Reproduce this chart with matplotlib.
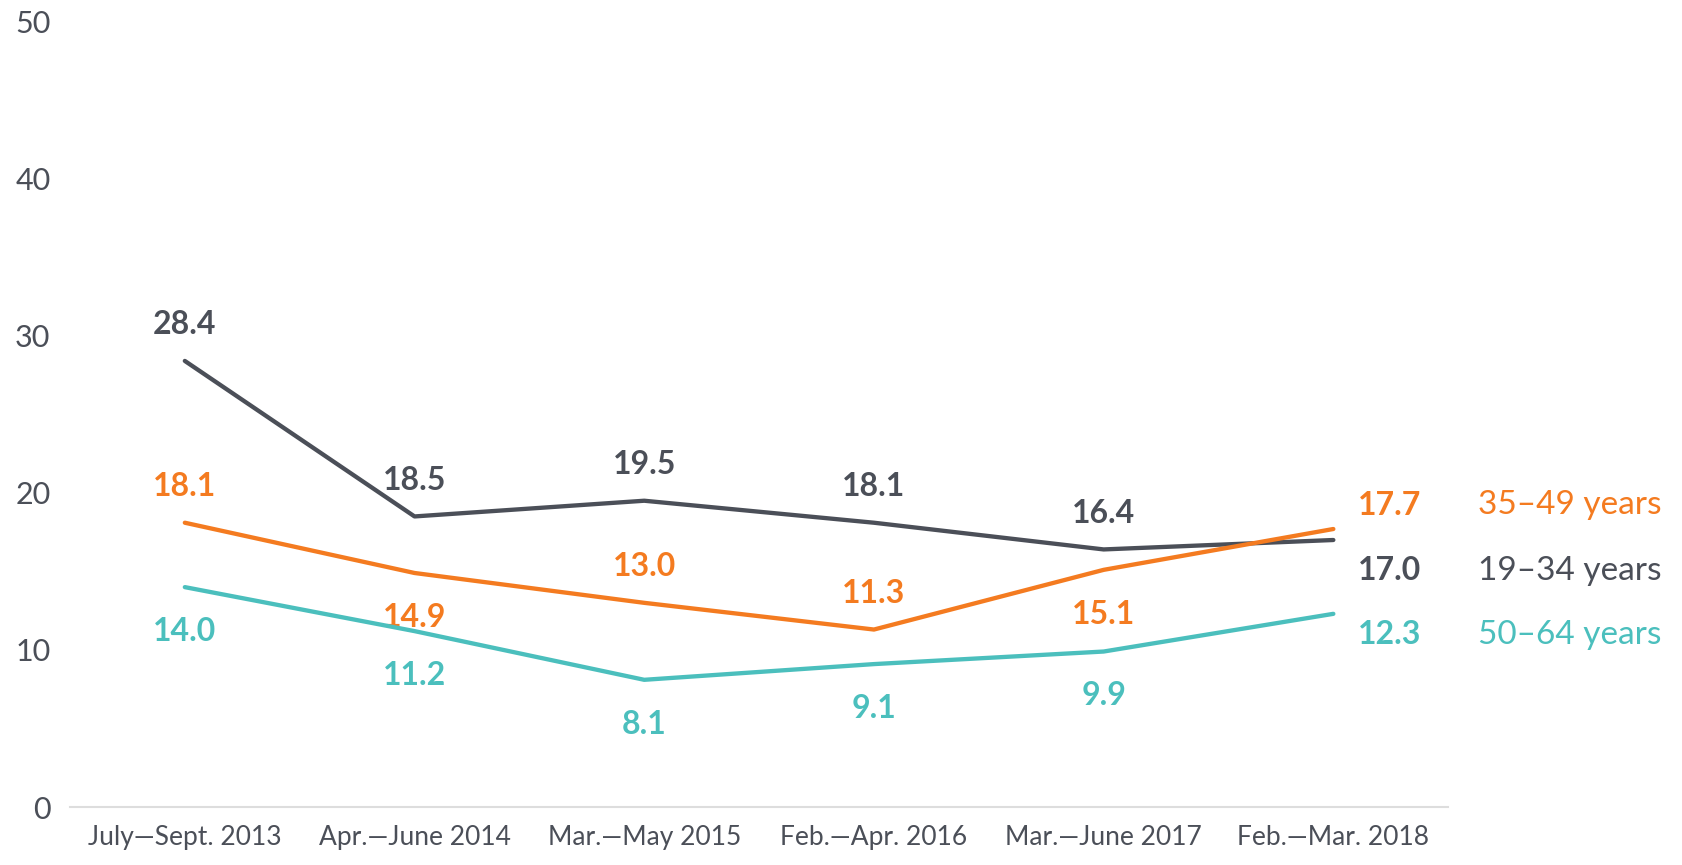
import matplotlib
matplotlib.use("Agg")
import matplotlib.pyplot as plt

plt.rcParams['font.family'] = ['Lato', 'DejaVu Sans']

periods = ["July\u2014Sept. 2013", "Apr.\u2014June 2014", "Mar.\u2014May 2015",
           "Feb.\u2014Apr. 2016", "Mar.\u2014June 2017", "Feb.\u2014Mar. 2018"]
age_19_34 = [28.4, 18.5, 19.5, 18.1, 16.4, 17.0]
age_35_49 = [18.1, 14.9, 13.0, 11.3, 15.1, 17.7]
age_50_64 = [14.0, 11.2, 8.1, 9.1, 9.9, 12.3]

gray = "#4b4f58"
orange = "#f47b20"
teal = "#4bbfbd"

# label above (+1) or below (-1) each point, last point handled separately
series = [
    ("19\u201334 years", age_19_34, gray, [1, 1, 1, 1, 1], -22),
    ("35\u201349 years", age_35_49, orange, [1, -1, 1, 1, -1], 17),
    ("50\u201364 years", age_50_64, teal, [-1, -1, -1, -1, -1], -15),
]

fig = plt.figure(figsize=(16.82, 8.65), dpi=100)
ax = fig.add_axes([0.0416, 0.067, 0.8194, 0.908])
x = list(range(len(periods)))

for name, vals, col, pos, last_dy in series:
    ax.plot(x, vals, color=col, lw=3.1, solid_capstyle='round', zorder=3)
    for i, v in enumerate(vals[:-1]):
        dy = 26 if pos[i] > 0 else -32
        ax.annotate(f"{v:.1f}", (x[i], v), xytext=(0, dy), textcoords='offset points',
                    ha='center', va='center', fontsize=23, fontweight='bold', color=col)
    ax.annotate(f"{vals[-1]:.1f}", (x[-1], vals[-1]), xytext=(18, last_dy),
                textcoords='offset points', ha='left', va='center',
                fontsize=23, fontweight='bold', color=col, annotation_clip=False)
    ax.annotate(name, (x[-1], vals[-1]), xytext=(104, last_dy),
                textcoords='offset points', ha='left', va='center',
                fontsize=24, color=col, annotation_clip=False)

ax.set_xlim(-0.5, 5.5)
ax.set_ylim(0, 50)
ax.set_yticks([0, 10, 20, 30, 40, 50])
ax.set_xticks(x)
ax.set_xticklabels(periods)
for s in ['top', 'right', 'left']:
    ax.spines[s].set_visible(False)
ax.spines['bottom'].set_color('#dddddd')
ax.spines['bottom'].set_linewidth(1.5)
ax.tick_params(axis='both', length=0, labelcolor=gray)
ax.tick_params(axis='y', pad=14, labelsize=22)
ax.tick_params(axis='x', pad=13, labelsize=19)

fig.savefig("out.png", dpi=100)
